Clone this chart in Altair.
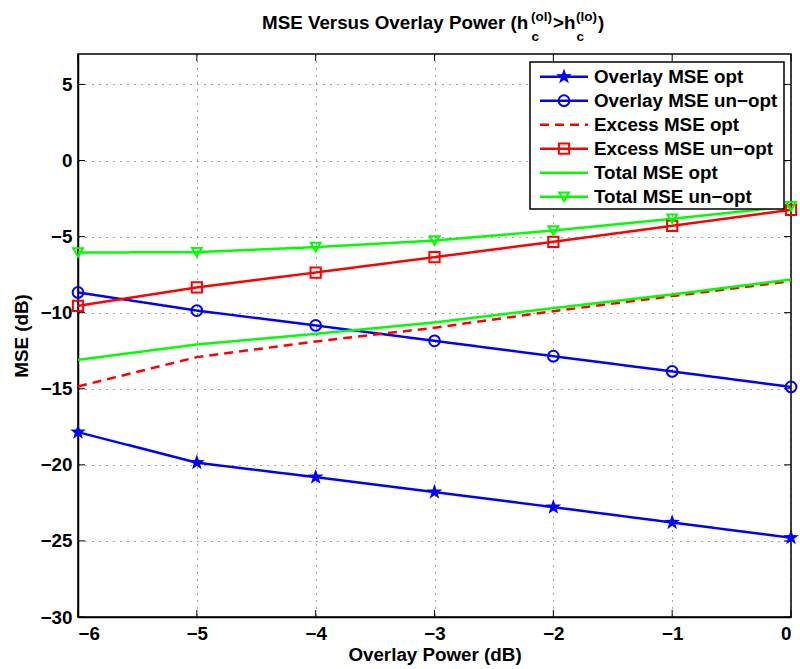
import altair as alt
import pandas as pd

# ---- data -----------------------------------------------------------------
x_db = [-6, -5, -4, -3, -2, -1, 0]

series_names = [
    "Overlay MSE opt",
    "Overlay MSE un\u2212opt",
    "Excess MSE opt",
    "Excess MSE un\u2212opt",
    "Total MSE opt",
    "Total MSE un\u2212opt",
]

overlay_opt = [-17.85, -19.86, -20.81, -21.79, -22.78, -23.79, -24.79]
overlay_unopt = [-8.67, -9.86, -10.84, -11.85, -12.86, -13.86, -14.88]
excess_opt = [-14.85, -12.92, -11.89, -10.99, -9.90, -8.91, -7.93]
excess_unopt = [-9.55, -8.34, -7.36, -6.35, -5.34, -4.29, -3.24]
total_opt = [-13.10, -12.09, -11.39, -10.64, -9.70, -8.80, -7.82]
total_unopt = [-6.05, -6.02, -5.69, -5.26, -4.60, -3.83, -3.00]

x_ticks = [-6, -5, -4, -3, -2, -1, 0]
y_ticks = [-30, -25, -20, -15, -10, -5, 0, 5]

# ---- styles ---------------------------------------------------------------
FONT = "Liberation Sans"
FS = 18.8
TITLE_FS = 18.8
SUP = 13.5
W, H = 713, 563

colors = ["#0000ff", "#0000ff", "#ff0000", "#ff0000", "#00ff00", "#00ff00"]
dashes = [[1, 0], [1, 0], [9, 6], [1, 0], [1, 0], [1, 0]]

STAR = ("M0,-1 L0.235,-0.324 L0.951,-0.309 L0.380,0.124 L0.588,0.809 "
        "L0,0.4 L-0.588,0.809 L-0.380,0.124 L-0.951,-0.309 L-0.235,-0.324 Z")
STAR_SIZE = 270
open_series = [series_names[1], series_names[3], series_names[5]]
open_shapes = ["circle", "square", "triangle-down"]
open_sizes = [115, 95, 150]

all_values = [overlay_opt, overlay_unopt, excess_opt, excess_unopt, total_opt, total_unopt]
rows = []
for name, vals in zip(series_names, all_values):
    for xv, yv in zip(x_db, vals):
        rows.append({"series": name, "x": xv, "y": yv})
df = pd.DataFrame(rows)

legend_df = pd.DataFrame({"series": series_names, "row": list(range(len(series_names)))})

# ---- shared encodings -----------------------------------------------------
X = alt.X(
    "x:Q",
    scale=alt.Scale(domain=[-6, 0], nice=False, zero=False),
    axis=alt.Axis(values=x_ticks, format="d", title="Overlay Power (dB)",
                  labelPadding=7, titlePadding=3),
)
Y = alt.Y(
    "y:Q",
    scale=alt.Scale(domain=[-30, 7], nice=False, zero=False),
    axis=alt.Axis(values=y_ticks, format="d", title="MSE (dB)",
                  labelPadding=6, titlePadding=9),
)
COLOR = alt.Color("series:N", scale=alt.Scale(domain=series_names, range=colors), legend=None)
DASH = alt.StrokeDash("series:N", scale=alt.Scale(domain=series_names, range=dashes), legend=None)
SHAPE = alt.Shape("series:N", scale=alt.Scale(domain=open_series, range=open_shapes), legend=None)
SIZE = alt.Size("series:N", scale=alt.Scale(domain=open_series, range=open_sizes), legend=None)

# ---- plot layers ----------------------------------------------------------
lines = alt.Chart(df).mark_line(strokeWidth=2.5).encode(x=X, y=Y, color=COLOR, strokeDash=DASH)

stars = alt.Chart(df[df.series == series_names[0]]).mark_point(
    shape=STAR, filled=True, size=STAR_SIZE, strokeWidth=1, opacity=1
).encode(x=X, y=Y, color=COLOR)

open_pts = alt.Chart(df[df.series.isin(open_series)]).mark_point(
    filled=False, strokeWidth=2, opacity=1
).encode(x=X, y=Y, color=COLOR, shape=SHAPE, size=SIZE)

# inward tick marks on all four sides of the box
ytick_df = pd.DataFrame({"y": y_ticks})
xtick_df = pd.DataFrame({"x": x_ticks})
tick_style = dict(color="black", strokeWidth=1)
yt_left = alt.Chart(ytick_df).mark_rule(**tick_style).encode(y=Y, x=alt.value(0), x2=alt.value(7))
yt_right = alt.Chart(ytick_df).mark_rule(**tick_style).encode(y=Y, x=alt.value(W - 7), x2=alt.value(W))
xt_bottom = alt.Chart(xtick_df).mark_rule(**tick_style).encode(x=X, y=alt.value(H - 7), y2=alt.value(H))
xt_top = alt.Chart(xtick_df).mark_rule(**tick_style).encode(x=X, y=alt.value(0), y2=alt.value(7))

main = alt.layer(yt_left, yt_right, xt_bottom, xt_top, lines, stars, open_pts)

# ---- legend ---------------------------------------------------------------
ROW = alt.Y("row:Q", scale=alt.Scale(domain=[0, 5], range=[22.7, 142.7]), axis=None)
box = alt.Chart(pd.DataFrame({"k": [0]})).mark_rect(
    fill="white", stroke="black", strokeWidth=1.5
).encode(x=alt.value(452), x2=alt.value(706), y=alt.value(8), y2=alt.value(155))
leg_lines = alt.Chart(legend_df).mark_rule(strokeWidth=2.5).encode(
    x=alt.value(462), x2=alt.value(510), y=ROW, color=COLOR, strokeDash=DASH)
leg_star = alt.Chart(legend_df[legend_df.series == series_names[0]]).mark_point(
    shape=STAR, filled=True, size=STAR_SIZE, strokeWidth=1, opacity=1
).encode(x=alt.value(486), y=ROW, color=COLOR)
leg_open = alt.Chart(legend_df[legend_df.series.isin(open_series)]).mark_point(
    filled=False, strokeWidth=2, opacity=1
).encode(x=alt.value(486), y=ROW, color=COLOR, shape=SHAPE, size=SIZE)
leg_text = alt.Chart(legend_df).mark_text(
    align="left", baseline="middle", font=FONT, fontSize=FS, fontWeight="bold", color="black"
).encode(x=alt.value(516), y=ROW, text="series:N")

legend = alt.layer(box, leg_lines, leg_star, leg_open, leg_text)

# ---- title with super/subscripts -----------------------------------------
one = pd.DataFrame({"k": [0]})


def title_piece(text, x, y, size):
    return alt.Chart(one).mark_text(
        align="left", baseline="alphabetic", font=FONT, fontSize=size,
        fontWeight="bold", color="black"
    ).encode(x=alt.value(x), y=alt.value(y), text=alt.value(text))


title = alt.layer(
    title_piece("MSE Versus Overlay Power (h", 184, -25, TITLE_FS),
    title_piece("(ol)", 453, -33, SUP),
    title_piece("c", 453.5, -13, SUP),
    title_piece(">h", 475, -25, TITLE_FS),
    title_piece("(lo)", 498, -33, SUP),
    title_piece("c", 498.5, -13, SUP),
    title_piece(")", 520, -25, TITLE_FS),
)

chart = alt.layer(main, legend, title).resolve_scale(y="independent").properties(
    width=W, height=H,
    autosize=alt.AutoSizeParams(type="none"),
    padding={"left": 78, "top": 54, "right": 9, "bottom": 52},
    background="white",
).configure_view(
    stroke="black", strokeWidth=1.5
).configure_axis(
    labelFont=FONT, labelFontSize=FS, labelFontWeight="bold", labelColor="black",
    titleFont=FONT, titleFontSize=FS, titleFontWeight="bold", titleColor="black",
    domain=True, domainColor="black", domainWidth=1.5,
    ticks=False,
    grid=True, gridColor="#222222", gridDash=[1, 6], gridWidth=1, gridOpacity=0.8,
)

chart.save("out.html", embed_options={"renderer": "svg", "actions": False})
